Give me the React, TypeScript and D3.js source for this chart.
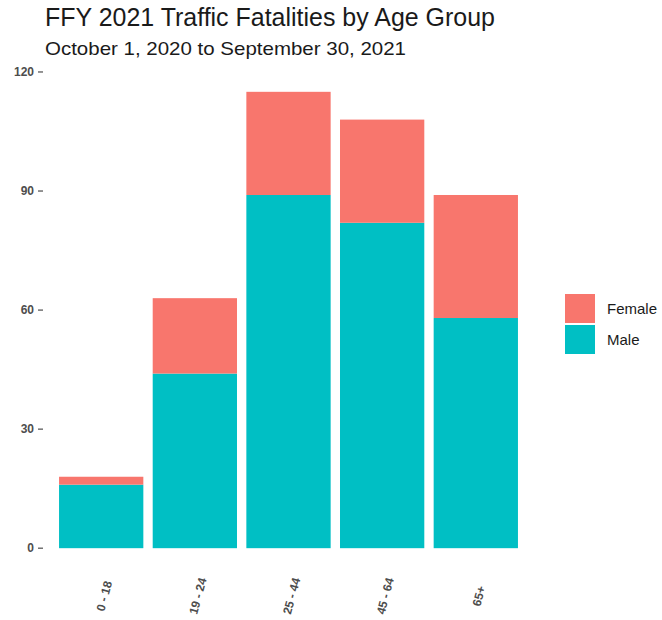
import React from "react";
import * as d3 from "d3";

const ageGroups = ["0 - 18", "19 - 24", "25 - 44", "45 - 64", "65+"];
const maleValues = [16, 44, 89, 82, 58];
const femaleValues = [2, 19, 26, 26, 31];
const yTicks = [0, 30, 60, 90, 120];
const legendItems = ["Female", "Male"];

const W = 662;
const H = 620;
const colors: Record<string, string> = { Female: "#F8766D", Male: "#00BFC4" };

export default function App() {
  const panel = { left: 45, right: 532, top: 69, bottom: 571 };
  const totals = maleValues.map((m, i) => m + femaleValues[i]);
  const maxTotal = d3.max(totals) as number;
  const pad = maxTotal * 0.05;

  const y = d3
    .scaleLinear()
    .domain([-pad, maxTotal + pad])
    .range([panel.bottom, panel.top]);

  // ggplot-style discrete expansion: 0.6 band units each side
  const n = ageGroups.length;
  const step = (panel.right - panel.left) / (n - 1 + 1.2);
  const x = d3
    .scalePoint()
    .domain(ageGroups)
    .range([panel.left + 0.6 * step, panel.right - 0.6 * step]);
  const barW = step * 0.9;

  const font = "'Liberation Sans', Arial, sans-serif";

  return (
    <svg width={W} height={H} style={{ position: "absolute", left: 0, top: 0 }} fontFamily={font}>
      <rect width={W} height={H} fill="#fff" />
      <text x={45} y={26} fontSize={25} textLength={450} lengthAdjust="spacingAndGlyphs" fill="#1a1a1a">
        FFY 2021 Traffic Fatalities by Age Group
      </text>
      <text x={45} y={55} fontSize={19} textLength={361} lengthAdjust="spacingAndGlyphs" fill="#1a1a1a">
        October 1, 2020 to September 30, 2021
      </text>

      {/* y axis */}
      {yTicks.map((t) => (
        <g key={t} transform={`translate(0,${y(t)})`}>
          <line x1={38} x2={43} stroke="#4d4d4d" strokeWidth={1.2} />
          <text x={34} dy="0.35em" textAnchor="end" fontSize={12} fontWeight="bold" fill="#4d4d4d">
            {t}
          </text>
        </g>
      ))}

      {/* bars */}
      {ageGroups.map((g, i) => {
        const cx = x(g) as number;
        const m = maleValues[i];
        const f = femaleValues[i];
        return (
          <g key={g}>
            <rect x={cx - barW / 2} y={y(m)} width={barW} height={y(0) - y(m)} fill={colors.Male} />
            <rect x={cx - barW / 2} y={y(m + f)} width={barW} height={y(m) - y(m + f)} fill={colors.Female} />
          </g>
        );
      })}

      {/* x labels */}
      {ageGroups.map((g) => (
        <text
          key={g}
          transform={`translate(${(x(g) as number) + 3},596) rotate(-75)`}
          textAnchor="middle"
          dy="0.35em"
          fontSize={12}
          fontWeight="bold"
          fill="#4d4d4d"
        >
          {g}
        </text>
      ))}

      {/* legend */}
      {legendItems.map((k, i) => (
        <g key={k} transform={`translate(565,${294 + i * 31})`}>
          <rect width={30} height={29} fill={colors[k]} />
          <text x={42} y={15} dy="0.35em" fontSize={15} fill="#1a1a1a">
            {k}
          </text>
        </g>
      ))}
    </svg>
  );
}
